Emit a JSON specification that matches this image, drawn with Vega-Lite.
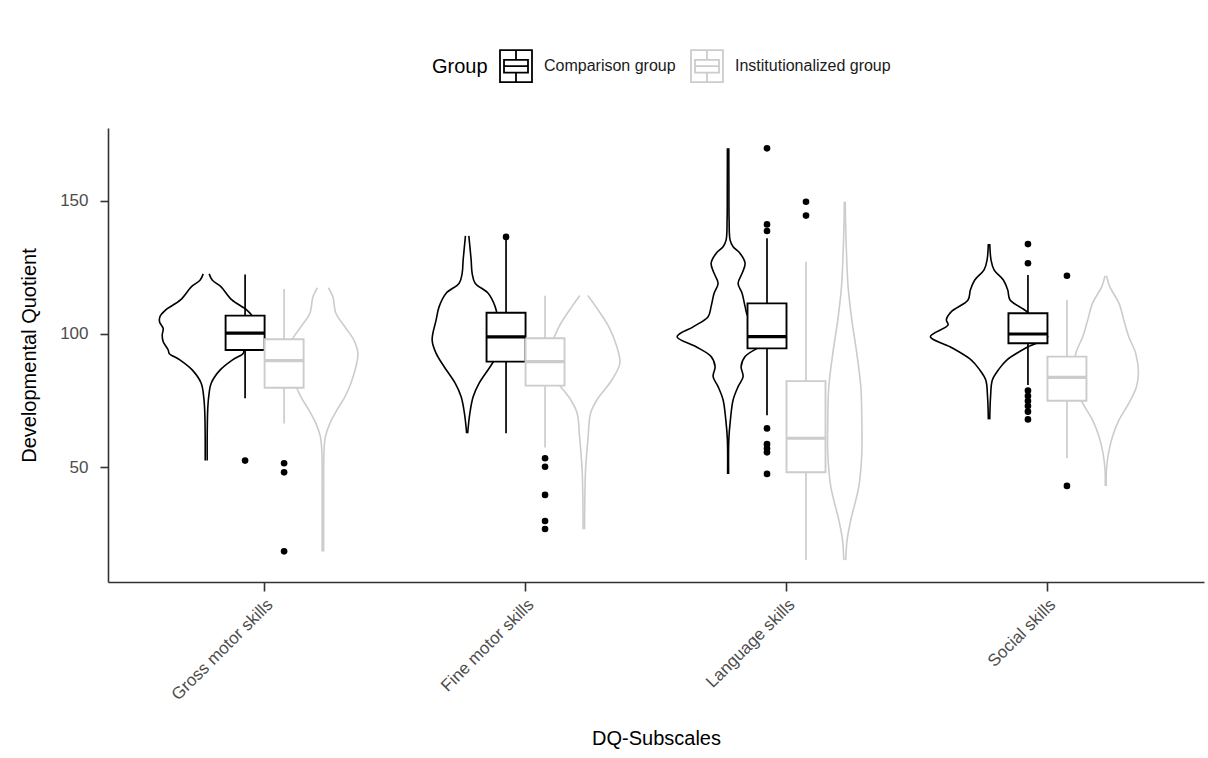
{
  "$schema": "https://vega.github.io/schema/vega-lite/v6.json",
  "width": 1096,
  "height": 454,
  "autosize": "none",
  "padding": {"left": 108, "top": 128, "right": 4, "bottom": 176},
  "background": "white",
  "datasets": {
    "violin": [
      {"subscale": "Gross motor skills", "group": "Comparison group", "dq": 122.6, "density": 0.03},
      {"subscale": "Gross motor skills", "group": "Comparison group", "dq": 120.3, "density": 0.06},
      {"subscale": "Gross motor skills", "group": "Comparison group", "dq": 117.8, "density": 0.147},
      {"subscale": "Gross motor skills", "group": "Comparison group", "dq": 112.8, "density": 0.257},
      {"subscale": "Gross motor skills", "group": "Comparison group", "dq": 109.0, "density": 0.407},
      {"subscale": "Gross motor skills", "group": "Comparison group", "dq": 106.5, "density": 0.463},
      {"subscale": "Gross motor skills", "group": "Comparison group", "dq": 104.6, "density": 0.467},
      {"subscale": "Gross motor skills", "group": "Comparison group", "dq": 102.1, "density": 0.43},
      {"subscale": "Gross motor skills", "group": "Comparison group", "dq": 99.6, "density": 0.44},
      {"subscale": "Gross motor skills", "group": "Comparison group", "dq": 97.1, "density": 0.43},
      {"subscale": "Gross motor skills", "group": "Comparison group", "dq": 94.0, "density": 0.38},
      {"subscale": "Gross motor skills", "group": "Comparison group", "dq": 92.7, "density": 0.37},
      {"subscale": "Gross motor skills", "group": "Comparison group", "dq": 90.2, "density": 0.26},
      {"subscale": "Gross motor skills", "group": "Comparison group", "dq": 86.5, "density": 0.14},
      {"subscale": "Gross motor skills", "group": "Comparison group", "dq": 81.5, "density": 0.05},
      {"subscale": "Gross motor skills", "group": "Comparison group", "dq": 76.4, "density": 0.025},
      {"subscale": "Gross motor skills", "group": "Comparison group", "dq": 71.4, "density": 0.015},
      {"subscale": "Gross motor skills", "group": "Comparison group", "dq": 61.4, "density": 0.01},
      {"subscale": "Gross motor skills", "group": "Comparison group", "dq": 52.4, "density": 0.01},

      {"subscale": "Gross motor skills", "group": "Institutionalized group", "dq": 117.4, "density": 0.055},
      {"subscale": "Gross motor skills", "group": "Institutionalized group", "dq": 114.0, "density": 0.10},
      {"subscale": "Gross motor skills", "group": "Institutionalized group", "dq": 107.8, "density": 0.13},
      {"subscale": "Gross motor skills", "group": "Institutionalized group", "dq": 102.7, "density": 0.22},
      {"subscale": "Gross motor skills", "group": "Institutionalized group", "dq": 97.7, "density": 0.31},
      {"subscale": "Gross motor skills", "group": "Institutionalized group", "dq": 92.7, "density": 0.35},
      {"subscale": "Gross motor skills", "group": "Institutionalized group", "dq": 87.7, "density": 0.33},
      {"subscale": "Gross motor skills", "group": "Institutionalized group", "dq": 81.5, "density": 0.28},
      {"subscale": "Gross motor skills", "group": "Institutionalized group", "dq": 76.4, "density": 0.22},
      {"subscale": "Gross motor skills", "group": "Institutionalized group", "dq": 71.4, "density": 0.14},
      {"subscale": "Gross motor skills", "group": "Institutionalized group", "dq": 66.4, "density": 0.07},
      {"subscale": "Gross motor skills", "group": "Institutionalized group", "dq": 61.4, "density": 0.025},
      {"subscale": "Gross motor skills", "group": "Institutionalized group", "dq": 55.1, "density": 0.01},
      {"subscale": "Gross motor skills", "group": "Institutionalized group", "dq": 42.6, "density": 0.008},
      {"subscale": "Gross motor skills", "group": "Institutionalized group", "dq": 18.2, "density": 0.007},

      {"subscale": "Fine motor skills", "group": "Comparison group", "dq": 136.9, "density": 0.017},
      {"subscale": "Fine motor skills", "group": "Comparison group", "dq": 127.8, "density": 0.04},
      {"subscale": "Fine motor skills", "group": "Comparison group", "dq": 122.8, "density": 0.05},
      {"subscale": "Fine motor skills", "group": "Comparison group", "dq": 119.1, "density": 0.08},
      {"subscale": "Fine motor skills", "group": "Comparison group", "dq": 115.3, "density": 0.21},
      {"subscale": "Fine motor skills", "group": "Comparison group", "dq": 110.3, "density": 0.28},
      {"subscale": "Fine motor skills", "group": "Comparison group", "dq": 105.3, "density": 0.31},
      {"subscale": "Fine motor skills", "group": "Comparison group", "dq": 97.7, "density": 0.35},
      {"subscale": "Fine motor skills", "group": "Comparison group", "dq": 92.7, "density": 0.31},
      {"subscale": "Fine motor skills", "group": "Comparison group", "dq": 87.7, "density": 0.23},
      {"subscale": "Fine motor skills", "group": "Comparison group", "dq": 81.5, "density": 0.12},
      {"subscale": "Fine motor skills", "group": "Comparison group", "dq": 76.4, "density": 0.06},
      {"subscale": "Fine motor skills", "group": "Comparison group", "dq": 70.2, "density": 0.027},
      {"subscale": "Fine motor skills", "group": "Comparison group", "dq": 62.7, "density": 0.005},

      {"subscale": "Fine motor skills", "group": "Institutionalized group", "dq": 114.5, "density": 0.04},
      {"subscale": "Fine motor skills", "group": "Institutionalized group", "dq": 110.3, "density": 0.12},
      {"subscale": "Fine motor skills", "group": "Institutionalized group", "dq": 102.7, "density": 0.25},
      {"subscale": "Fine motor skills", "group": "Institutionalized group", "dq": 95.2, "density": 0.33},
      {"subscale": "Fine motor skills", "group": "Institutionalized group", "dq": 89.0, "density": 0.36},
      {"subscale": "Fine motor skills", "group": "Institutionalized group", "dq": 82.7, "density": 0.28},
      {"subscale": "Fine motor skills", "group": "Institutionalized group", "dq": 75.2, "density": 0.13},
      {"subscale": "Fine motor skills", "group": "Institutionalized group", "dq": 70.2, "density": 0.067},
      {"subscale": "Fine motor skills", "group": "Institutionalized group", "dq": 61.4, "density": 0.043},
      {"subscale": "Fine motor skills", "group": "Institutionalized group", "dq": 48.9, "density": 0.017},
      {"subscale": "Fine motor skills", "group": "Institutionalized group", "dq": 38.8, "density": 0.01},
      {"subscale": "Fine motor skills", "group": "Institutionalized group", "dq": 26.6, "density": 0.007},

      {"subscale": "Language skills", "group": "Comparison group", "dq": 169.8, "density": 0.007},
      {"subscale": "Language skills", "group": "Comparison group", "dq": 155.4, "density": 0.008},
      {"subscale": "Language skills", "group": "Comparison group", "dq": 142.9, "density": 0.01},
      {"subscale": "Language skills", "group": "Comparison group", "dq": 135.3, "density": 0.02},
      {"subscale": "Language skills", "group": "Comparison group", "dq": 132.8, "density": 0.05},
      {"subscale": "Language skills", "group": "Comparison group", "dq": 130.3, "density": 0.12},
      {"subscale": "Language skills", "group": "Comparison group", "dq": 126.6, "density": 0.17},
      {"subscale": "Language skills", "group": "Comparison group", "dq": 122.8, "density": 0.14},
      {"subscale": "Language skills", "group": "Comparison group", "dq": 119.1, "density": 0.10},
      {"subscale": "Language skills", "group": "Comparison group", "dq": 115.3, "density": 0.14},
      {"subscale": "Language skills", "group": "Comparison group", "dq": 110.3, "density": 0.17},
      {"subscale": "Language skills", "group": "Comparison group", "dq": 106.5, "density": 0.20},
      {"subscale": "Language skills", "group": "Comparison group", "dq": 102.7, "density": 0.35},
      {"subscale": "Language skills", "group": "Comparison group", "dq": 99.0, "density": 0.51},
      {"subscale": "Language skills", "group": "Comparison group", "dq": 95.2, "density": 0.32},
      {"subscale": "Language skills", "group": "Comparison group", "dq": 91.5, "density": 0.17},
      {"subscale": "Language skills", "group": "Comparison group", "dq": 87.7, "density": 0.13},
      {"subscale": "Language skills", "group": "Comparison group", "dq": 84.0, "density": 0.15},
      {"subscale": "Language skills", "group": "Comparison group", "dq": 80.2, "density": 0.10},
      {"subscale": "Language skills", "group": "Comparison group", "dq": 75.2, "density": 0.05},
      {"subscale": "Language skills", "group": "Comparison group", "dq": 67.7, "density": 0.023},
      {"subscale": "Language skills", "group": "Comparison group", "dq": 60.2, "density": 0.007},
      {"subscale": "Language skills", "group": "Comparison group", "dq": 47.4, "density": 0.005},

      {"subscale": "Language skills", "group": "Institutionalized group", "dq": 149.7, "density": 0.005},
      {"subscale": "Language skills", "group": "Institutionalized group", "dq": 142.9, "density": 0.007},
      {"subscale": "Language skills", "group": "Institutionalized group", "dq": 130.3, "density": 0.017},
      {"subscale": "Language skills", "group": "Institutionalized group", "dq": 117.8, "density": 0.033},
      {"subscale": "Language skills", "group": "Institutionalized group", "dq": 105.3, "density": 0.07},
      {"subscale": "Language skills", "group": "Institutionalized group", "dq": 92.7, "density": 0.12},
      {"subscale": "Language skills", "group": "Institutionalized group", "dq": 80.2, "density": 0.16},
      {"subscale": "Language skills", "group": "Institutionalized group", "dq": 67.7, "density": 0.17},
      {"subscale": "Language skills", "group": "Institutionalized group", "dq": 55.1, "density": 0.17},
      {"subscale": "Language skills", "group": "Institutionalized group", "dq": 42.6, "density": 0.14},
      {"subscale": "Language skills", "group": "Institutionalized group", "dq": 30.1, "density": 0.06},
      {"subscale": "Language skills", "group": "Institutionalized group", "dq": 22.6, "density": 0.023},
      {"subscale": "Language skills", "group": "Institutionalized group", "dq": 15.0, "density": 0.01},

      {"subscale": "Social skills", "group": "Comparison group", "dq": 133.8, "density": 0.007},
      {"subscale": "Social skills", "group": "Comparison group", "dq": 127.8, "density": 0.02},
      {"subscale": "Social skills", "group": "Comparison group", "dq": 124.1, "density": 0.05},
      {"subscale": "Social skills", "group": "Comparison group", "dq": 120.3, "density": 0.143},
      {"subscale": "Social skills", "group": "Comparison group", "dq": 116.5, "density": 0.187},
      {"subscale": "Social skills", "group": "Comparison group", "dq": 112.8, "density": 0.21},
      {"subscale": "Social skills", "group": "Comparison group", "dq": 108.4, "density": 0.377},
      {"subscale": "Social skills", "group": "Comparison group", "dq": 105.3, "density": 0.427},
      {"subscale": "Social skills", "group": "Comparison group", "dq": 103.4, "density": 0.41},
      {"subscale": "Social skills", "group": "Comparison group", "dq": 99.0, "density": 0.587},
      {"subscale": "Social skills", "group": "Comparison group", "dq": 95.2, "density": 0.39},
      {"subscale": "Social skills", "group": "Comparison group", "dq": 90.2, "density": 0.177},
      {"subscale": "Social skills", "group": "Comparison group", "dq": 86.5, "density": 0.093},
      {"subscale": "Social skills", "group": "Comparison group", "dq": 82.7, "density": 0.033},
      {"subscale": "Social skills", "group": "Comparison group", "dq": 76.4, "density": 0.015},
      {"subscale": "Social skills", "group": "Comparison group", "dq": 67.9, "density": 0.007},

      {"subscale": "Social skills", "group": "Institutionalized group", "dq": 121.9, "density": 0.007},
      {"subscale": "Social skills", "group": "Institutionalized group", "dq": 117.8, "density": 0.04},
      {"subscale": "Social skills", "group": "Institutionalized group", "dq": 111.5, "density": 0.133},
      {"subscale": "Social skills", "group": "Institutionalized group", "dq": 105.3, "density": 0.18},
      {"subscale": "Social skills", "group": "Institutionalized group", "dq": 99.0, "density": 0.23},
      {"subscale": "Social skills", "group": "Institutionalized group", "dq": 92.7, "density": 0.30},
      {"subscale": "Social skills", "group": "Institutionalized group", "dq": 85.2, "density": 0.327},
      {"subscale": "Social skills", "group": "Institutionalized group", "dq": 80.2, "density": 0.307},
      {"subscale": "Social skills", "group": "Institutionalized group", "dq": 73.9, "density": 0.23},
      {"subscale": "Social skills", "group": "Institutionalized group", "dq": 67.7, "density": 0.133},
      {"subscale": "Social skills", "group": "Institutionalized group", "dq": 61.4, "density": 0.067},
      {"subscale": "Social skills", "group": "Institutionalized group", "dq": 55.1, "density": 0.027},
      {"subscale": "Social skills", "group": "Institutionalized group", "dq": 48.9, "density": 0.007},
      {"subscale": "Social skills", "group": "Institutionalized group", "dq": 42.9, "density": 0.005}
    ],
    "boxes": [
      {"subscale": "Gross motor skills", "group": "Comparison group", "lower": 75.8, "q1": 94.0, "median": 100.3, "q3": 106.9, "upper": 122.4},
      {"subscale": "Gross motor skills", "group": "Institutionalized group", "lower": 66.4, "q1": 79.8, "median": 90.0, "q3": 98.0, "upper": 116.9},
      {"subscale": "Fine motor skills", "group": "Comparison group", "lower": 62.7, "q1": 89.6, "median": 98.9, "q3": 108.0, "upper": 135.5},
      {"subscale": "Fine motor skills", "group": "Institutionalized group", "lower": 57.3, "q1": 80.6, "median": 89.6, "q3": 98.4, "upper": 114.4},
      {"subscale": "Language skills", "group": "Comparison group", "lower": 69.5, "q1": 94.6, "median": 99.0, "q3": 111.5, "upper": 136.0},
      {"subscale": "Language skills", "group": "Institutionalized group", "lower": 15.0, "q1": 48.0, "median": 60.8, "q3": 82.3, "upper": 127.2},
      {"subscale": "Social skills", "group": "Comparison group", "lower": 80.8, "q1": 96.5, "median": 100.0, "q3": 107.8, "upper": 122.2},
      {"subscale": "Social skills", "group": "Institutionalized group", "lower": 53.3, "q1": 74.9, "median": 83.7, "q3": 91.5, "upper": 112.8}
    ],
    "outliers": [
      {"subscale": "Gross motor skills", "group": "Comparison group", "dq": 52.4},
      {"subscale": "Gross motor skills", "group": "Institutionalized group", "dq": 51.4},
      {"subscale": "Gross motor skills", "group": "Institutionalized group", "dq": 48.0},
      {"subscale": "Gross motor skills", "group": "Institutionalized group", "dq": 18.3},
      {"subscale": "Fine motor skills", "group": "Comparison group", "dq": 136.5},
      {"subscale": "Fine motor skills", "group": "Institutionalized group", "dq": 53.3},
      {"subscale": "Fine motor skills", "group": "Institutionalized group", "dq": 50.1},
      {"subscale": "Fine motor skills", "group": "Institutionalized group", "dq": 39.5},
      {"subscale": "Fine motor skills", "group": "Institutionalized group", "dq": 29.7},
      {"subscale": "Fine motor skills", "group": "Institutionalized group", "dq": 26.7},
      {"subscale": "Language skills", "group": "Comparison group", "dq": 169.8},
      {"subscale": "Language skills", "group": "Comparison group", "dq": 141.2},
      {"subscale": "Language skills", "group": "Comparison group", "dq": 138.7},
      {"subscale": "Language skills", "group": "Comparison group", "dq": 64.5},
      {"subscale": "Language skills", "group": "Comparison group", "dq": 58.6},
      {"subscale": "Language skills", "group": "Comparison group", "dq": 57.0},
      {"subscale": "Language skills", "group": "Comparison group", "dq": 55.5},
      {"subscale": "Language skills", "group": "Comparison group", "dq": 47.4},
      {"subscale": "Language skills", "group": "Institutionalized group", "dq": 149.7},
      {"subscale": "Language skills", "group": "Institutionalized group", "dq": 144.5},
      {"subscale": "Social skills", "group": "Comparison group", "dq": 133.8},
      {"subscale": "Social skills", "group": "Comparison group", "dq": 126.6},
      {"subscale": "Social skills", "group": "Comparison group", "dq": 78.7},
      {"subscale": "Social skills", "group": "Comparison group", "dq": 76.7},
      {"subscale": "Social skills", "group": "Comparison group", "dq": 74.8},
      {"subscale": "Social skills", "group": "Comparison group", "dq": 72.9},
      {"subscale": "Social skills", "group": "Comparison group", "dq": 70.8},
      {"subscale": "Social skills", "group": "Comparison group", "dq": 67.9},
      {"subscale": "Social skills", "group": "Institutionalized group", "dq": 121.9},
      {"subscale": "Social skills", "group": "Institutionalized group", "dq": 42.9}
    ]
  },
  "encoding": {
    "x": {
      "field": "subscale", "type": "nominal", "title": "DQ-Subscales",
      "sort": ["Gross motor skills", "Fine motor skills", "Language skills", "Social skills"],
      "scale": {"type": "band", "paddingInner": 0, "paddingOuter": 0.1},
      "axis": {"labelAngle": -45, "labelAlign": "right", "labelBaseline": "top", "tickSize": 9, "labelPadding": 5, "titlePadding": 26}
    }
  },
  "layer": [
    {
      "data": {"name": "violin"},
      "transform": [{"filter": "datum.group === 'Comparison group'"}],
      "mark": {"type": "line", "strokeWidth": 1.6, "interpolate": "catmull-rom"},
      "encoding": {
        "xOffset": {"field": "density", "type": "quantitative", "scale": {"domain": [0, 1], "range": [72.1, 172.1]}},
        "y": {"field": "dq", "type": "quantitative", "title": "Developmental Quotient",
              "scale": {"domain": [6.77, 177.44], "nice": false, "zero": false},
              "axis": {"values": [50, 100, 150], "tickSize": 8, "labelPadding": 12, "titlePadding": 20}},
        "detail": {"field": "subscale"},
        "order": {"field": "dq", "type": "quantitative"},
        "stroke": {"field": "group", "type": "nominal",
                   "scale": {"domain": ["Comparison group", "Institutionalized group"], "range": ["#000000", "#cccccc"]},
                   "legend": {"title": "Group", "orient": "none", "legendX": 324, "legendY": -79, "direction": "horizontal",
                              "titleOrient": "left", "symbolType": "M-1,-1H1V1H-1Z M-0.75,-0.4H0.75V0.4H-0.75Z M-0.75,0H0.75 M0,-1V-0.4 M0,0.4V1",
                              "symbolSize": 1024, "symbolStrokeWidth": 1.8, "symbolFillColor": "white",
                              "labelFontSize": 16, "titleFontSize": 20, "labelOffset": 11, "columnPadding": 11, "titlePadding": 11}}
      }
    },
    {
      "data": {"name": "violin"},
      "transform": [{"filter": "datum.group === 'Comparison group'"}],
      "mark": {"type": "line", "strokeWidth": 1.6, "interpolate": "catmull-rom"},
      "encoding": {
        "xOffset": {"field": "density", "type": "quantitative", "scale": {"domain": [0, 1], "range": [72.1, -27.9]}},
        "y": {"field": "dq", "type": "quantitative", "title": "Developmental Quotient"},
        "detail": {"field": "subscale"},
        "order": {"field": "dq", "type": "quantitative"},
        "stroke": {"field": "group", "type": "nominal"}
      }
    },
    {
      "data": {"name": "violin"},
      "transform": [{"filter": "datum.group === 'Institutionalized group'"}],
      "mark": {"type": "line", "strokeWidth": 1.6, "interpolate": "catmull-rom"},
      "encoding": {
        "xOffset": {"field": "density", "type": "quantitative", "scale": {"domain": [0, 1], "range": [188.8, 288.8]}},
        "y": {"field": "dq", "type": "quantitative", "title": "Developmental Quotient"},
        "detail": {"field": "subscale"},
        "order": {"field": "dq", "type": "quantitative"},
        "stroke": {"field": "group", "type": "nominal"}
      }
    },
    {
      "data": {"name": "violin"},
      "transform": [{"filter": "datum.group === 'Institutionalized group'"}],
      "mark": {"type": "line", "strokeWidth": 1.6, "interpolate": "catmull-rom"},
      "encoding": {
        "xOffset": {"field": "density", "type": "quantitative", "scale": {"domain": [0, 1], "range": [188.8, 88.8]}},
        "y": {"field": "dq", "type": "quantitative", "title": "Developmental Quotient"},
        "detail": {"field": "subscale"},
        "order": {"field": "dq", "type": "quantitative"},
        "stroke": {"field": "group", "type": "nominal"}
      }
    },
    {
      "data": {"name": "boxes"},
      "mark": {"type": "rule", "strokeWidth": 1.7},
      "encoding": {
        "xOffset": {"field": "group", "type": "nominal", "scale": {"type": "band", "domain": ["Comparison group", "Institutionalized group"], "range": [91.5, 169.5], "paddingInner": 0, "paddingOuter": 0}},
        "y": {"field": "lower", "type": "quantitative", "title": "Developmental Quotient"},
        "y2": {"field": "upper"},
        "stroke": {"field": "group", "type": "nominal"}
      }
    },
    {
      "data": {"name": "boxes"},
      "mark": {"type": "bar", "fill": "white", "strokeWidth": 1.9},
      "encoding": {
        "xOffset": {"field": "group", "type": "nominal", "scale": {"type": "band", "domain": ["Comparison group", "Institutionalized group"], "range": [91.5, 169.5], "paddingInner": 0, "paddingOuter": 0}},
        "y": {"field": "q1", "type": "quantitative", "title": "Developmental Quotient"},
        "y2": {"field": "q3"},
        "stroke": {"field": "group", "type": "nominal"}
      }
    },
    {
      "data": {"name": "boxes"},
      "mark": {"type": "bar", "fill": "white", "strokeWidth": 3.2},
      "encoding": {
        "xOffset": {"field": "group", "type": "nominal", "scale": {"type": "band", "domain": ["Comparison group", "Institutionalized group"], "range": [91.5, 169.5], "paddingInner": 0, "paddingOuter": 0}},
        "y": {"field": "median", "type": "quantitative", "title": "Developmental Quotient"},
        "y2": {"field": "median"},
        "stroke": {"field": "group", "type": "nominal"}
      }
    },
    {
      "data": {"name": "outliers"},
      "mark": {"type": "point", "filled": true, "color": "black", "size": 44, "opacity": 1},
      "encoding": {
        "xOffset": {"field": "group", "type": "nominal", "scale": {"type": "band", "domain": ["Comparison group", "Institutionalized group"], "range": [91.5, 169.5], "paddingInner": 0, "paddingOuter": 0}},
        "y": {"field": "dq", "type": "quantitative", "title": "Developmental Quotient"}
      }
    }
  ],
  "resolve": {"scale": {"xOffset": "independent"}},
  "config": {
    "view": {"stroke": null},
    "font": "Liberation Sans",
    "axis": {
      "grid": false, "domainColor": "#333333", "domainWidth": 1.6, "tickColor": "#333333", "tickWidth": 1.6,
      "labelColor": "#4d4d4d", "labelFontSize": 17, "labelFont": "Liberation Sans",
      "titleFont": "Liberation Sans", "titleFontSize": 20, "titleFontWeight": "normal", "titleColor": "#000000"
    },
    "legend": {"labelFont": "Liberation Sans", "titleFont": "Liberation Sans", "titleFontWeight": "normal", "labelColor": "#1a1a1a", "titleColor": "#000000"}
  }
}
